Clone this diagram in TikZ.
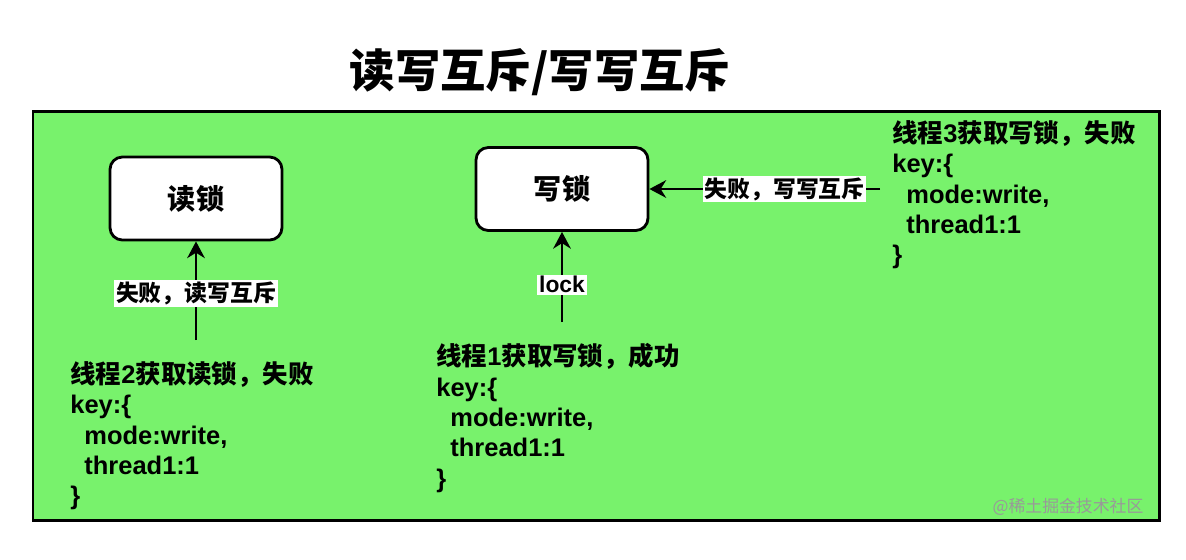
\documentclass[tikz,border=0pt]{standalone}
\usepackage{fontspec}
\setmainfont{Liberation Sans}
\newfontfamily\cjk{Noto Sans CJK SC}
\usetikzlibrary{arrows.meta}
\definecolor{fondo}{RGB}{120,242,108}
\tikzset{
  lockbox/.style={draw, fill=white, rounded corners=7pt, minimum width=3.44cm,
    minimum height=1.66cm, font=\cjk\bfseries\fontsize{16}{19}\selectfont},
  keytext/.style={anchor=north west, inner sep=0pt, align=left,
    font=\bfseries\fontsize{14.5}{17.3}\selectfont},
  edgelabel/.style={fill=white, inner sep=1pt, font=\bfseries\fontsize{13}{15}\selectfont}
}
\newcommand{\ind}{\hspace*{0.55em}}
\begin{document}
\begin{tikzpicture}[x=0.02cm, y=-0.02cm, >={Stealth[length=9.5pt,width=10pt]}, line width=1.6pt]
  \useasboundingbox (0,0) rectangle (1186,559);
  % titulo
  \node[font=\cjk\bfseries\fontsize{25.8}{30}\selectfont] (title) at (540,72) {读写互斥/写写互斥};
  % fondo verde
  \draw[line width=1.7pt, fill=fondo] (33,111) rectangle (1159,520);
  % cerrojos
  \node[lockbox] (rl) at (196,198.5) {读锁};
  \node[lockbox] (wl) at (562,189) {写锁};
  % hilos
  \node[keytext] (t2) at (69,360) {{\cjk 线程}2{\cjk 获取读锁，失败}\\key:\{\\\ind mode:write,\\\ind thread1:1\\\}};
  \node[keytext] (t1) at (435,342) {{\cjk 线程}1{\cjk 获取写锁，成功}\\key:\{\\\ind mode:write,\\\ind thread1:1\\\}};
  \node[keytext] (t3) at (891,119) {{\cjk 线程}3{\cjk 获取写锁，失败}\\key:\{\\\ind mode:write,\\\ind thread1:1\\\}};
  % flechas
  \draw[->, shorten <=20pt*0.567] (rl.south |- t2.north) -- node[edgelabel, pos=0.56] (e2) {\cjk 失败，读写互斥} (rl.south);
  \draw[->, shorten <=20pt*0.567] (wl.south |- t1.north) -- node[edgelabel, pos=0.52] (e1) {lock} (wl.south);
  \draw[->, shorten <=11pt*0.567] (t3.west |- wl.east) -- node[edgelabel, pos=0.44] (e3) {\cjk 失败，写写互斥} (wl.east);
  % marca
  \node[text=black!40, font=\cjk\fontsize{9.6}{11}\selectfont] (wm) at (1068,507) {@稀土掘金技术社区};
\end{tikzpicture}
\end{document}
